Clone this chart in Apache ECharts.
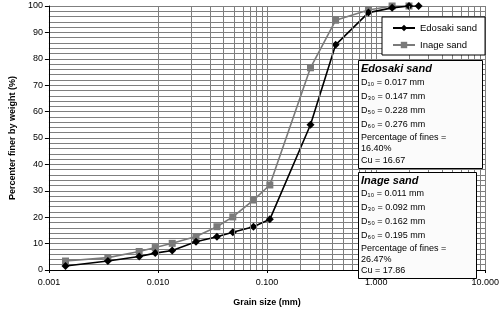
<!DOCTYPE html>
<html>
<head>
<meta charset="utf-8">
<script src="https://cdn.jsdelivr.net/npm/echarts@6/dist/echarts.min.js"></script>
<style>
  html, body { margin: 0; padding: 0; background: #fff; }
</style>
</head>
<body>
<div id="grainChart" style="width:502px;height:312px;"></div>
<script>
  // grain size (mm)
  var edosakiSize = [0.00142, 0.00347, 0.00672, 0.00944, 0.0135, 0.0223, 0.0347, 0.0485, 0.075, 0.106, 0.25, 0.425, 0.85, 1.4, 2.0, 2.45]
  var edosakiPass = [1.5, 3.4, 5.1, 6.4, 7.4, 10.7, 12.6, 14.3, 16.4, 19.2, 55.0, 85.3, 97.5, 99.3, 100, 100]
  var inageSize = [0.00142, 0.00347, 0.00672, 0.00944, 0.0135, 0.0223, 0.0347, 0.0485, 0.075, 0.106, 0.25, 0.425, 0.85, 1.4, 2.0]
  var inagePass = [3.4, 4.7, 7.0, 8.5, 10.1, 12.7, 16.4, 20.1, 26.5, 32.2, 76.6, 94.6, 98.5, 100, 100]

  var edosakiText = ['D₁₀ = 0.017 mm', 'D₃₀ = 0.147 mm', 'D₅₀ = 0.228 mm', 'D₆₀ = 0.276 mm', 'Percentage of fines =', '16.40%', 'Cu = 16.67']
  var inageText = ['D₁₀ = 0.011 mm', 'D₃₀ = 0.092 mm', 'D₅₀ = 0.162 mm', 'D₆₀ = 0.195 mm', 'Percentage of fines =', '26.47%', 'Cu = 17.86']

  function pairs(xs, ys) {
    var out = []
    for (var i = 0; i < xs.length; i++) {
      out.push([xs[i], ys[i]])
    }
    return out
  }

  // log minor grid lines 2..9 in every decade
  var minorLines = []
  for (var d = -3; d <= 0; d++) {
    for (var m = 2; m <= 9; m++) {
      minorLines.push({ xAxis: Number((m * Math.pow(10, d)).toPrecision(3)) })
    }
  }

  var font = 'Liberation Sans, Arial, sans-serif'

  function infoBox(title, lines, x, y, w, h, ys) {
    var items = [{
      type: 'rect',
      z: 100,
      shape: { x: x + 0.5, y: y + 0.5, width: w, height: h },
      style: { fill: '#fbfbfb', stroke: '#000', lineWidth: 1 }
    }, {
      type: 'text',
      z: 101,
      x: x + 3, y: y + ys[0],
      style: { text: title, font: 'italic bold 11px ' + font, fill: '#000', verticalAlign: 'middle' }
    }]
    for (var i = 0; i < lines.length; i++) {
      items.push({
        type: 'text',
        z: 101,
        x: x + 3, y: y + ys[i + 1],
        style: { text: lines[i], font: '9px ' + font, fill: '#000', verticalAlign: 'middle' }
      })
    }
    return items
  }

  var chart = echarts.init(document.getElementById('grainChart'))
  var option = {
    animation: false,
    backgroundColor: '#fff',
    textStyle: { fontFamily: font },
    grid: { left: 37, right: 15, top: 6, bottom: 36 },
    legend: {
      orient: 'vertical',
      left: 382,
      top: 17,
      padding: [6, 8, 5, 10],
      itemWidth: 22,
      itemHeight: 8,
      itemGap: 7,
      backgroundColor: '#fff',
      borderColor: '#000',
      borderWidth: 1,
      z: 50,
      textStyle: { fontSize: 9.5, color: '#000' },
      data: ['Edosaki sand', 'Inage sand']
    },
    xAxis: {
      type: 'log',
      logBase: 10,
      min: 0.001,
      max: 10,
      name: 'Grain size (mm)',
      nameLocation: 'middle',
      nameGap: 28,
      nameTextStyle: { fontSize: 9, fontWeight: 'bold', color: '#000' },
      axisLine: { lineStyle: { color: '#000', width: 1 } },
      axisTick: { show: true, length: 3, lineStyle: { color: '#000' } },
      axisLabel: {
        fontSize: 9, color: '#000', margin: 8,
        formatter: function (v) { return v.toFixed(3) }
      },
      splitLine: { show: true, lineStyle: { color: '#7f7f7f', width: 1 } }
    },
    yAxis: {
      type: 'value',
      min: 0,
      max: 100,
      interval: 10,
      name: 'Percenter finer by weight (%)',
      nameLocation: 'middle',
      nameGap: 27,
      nameTextStyle: { fontSize: 9, fontWeight: 'bold', color: '#000' },
      axisLine: { show: true, lineStyle: { color: '#000', width: 1 } },
      axisTick: { show: true, length: 4, lineStyle: { color: '#000' } },
      axisLabel: { fontSize: 9, color: '#000', margin: 6 },
      splitLine: { show: true, lineStyle: { color: '#7f7f7f', width: 1 } },
      minorTick: { show: false, splitNumber: 5 },
      minorSplitLine: { show: true, lineStyle: { color: '#7f7f7f', width: 1 } }
    },
    graphic: {
      elements: infoBox('Edosaki sand', edosakiText, 358, 60, 124, 108, [9, 22.5, 36.5, 50.5, 64.5, 78, 89, 101])
        .concat(infoBox('Inage sand', inageText, 358, 172, 118, 106, [9, 22, 36, 50, 64, 77, 88, 99]))
    },
    series: [
      {
        name: 'grid',
        type: 'line',
        data: [],
        silent: true,
        z: 1,
        markLine: {
          silent: true,
          symbol: ['none', 'none'],
          label: { show: false },
          lineStyle: { color: '#7f7f7f', width: 1, type: 'solid' },
          data: minorLines
        }
      },
      {
        name: 'Inage sand',
        type: 'line',
        data: pairs(inageSize, inagePass),
        symbol: 'rect',
        symbolSize: 7,
        color: '#7a7a7a',
        lineStyle: { width: 1.6, color: '#7a7a7a' },
        itemStyle: { color: '#7a7a7a' },
        z: 3
      },
      {
        name: 'Edosaki sand',
        type: 'line',
        data: pairs(edosakiSize, edosakiPass),
        symbol: 'diamond',
        symbolSize: 8,
        color: '#000',
        lineStyle: { width: 1.6, color: '#000' },
        itemStyle: { color: '#000' },
        z: 4
      }
    ]
  }
  chart.setOption(option)
</script>
</body>
</html>
